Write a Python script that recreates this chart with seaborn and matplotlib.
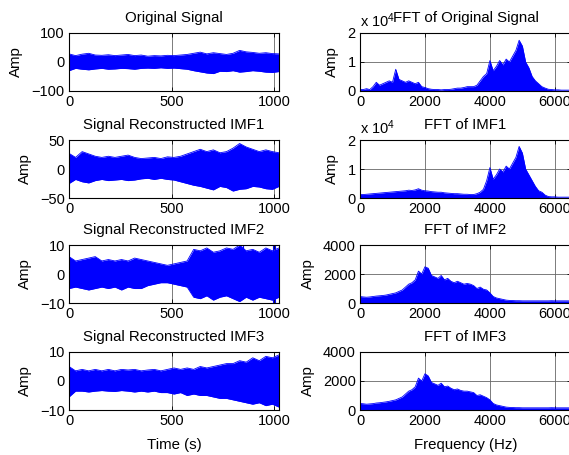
import numpy as np
import pandas as pd
import matplotlib
matplotlib.use("Agg")
import matplotlib.pyplot as plt
import seaborn as sns

# time-domain envelopes (upper / lower), sampled every 32 s from 0 to 1024 s
t_env = list(range(0, 1025, 32))

orig_up = [28, 22, 27, 30, 24, 23, 25, 22, 24, 26, 22, 24, 20, 22, 21, 23, 22,
           24, 26, 30, 34, 28, 32, 29, 26, 30, 40, 35, 33, 30, 32, 29, 28]
orig_low = [-30, -22, -25, -27, -24, -22, -25, -24, -22, -23, -25, -22, -21, -22, -20, -22, -21,
            -23, -25, -30, -34, -38, -40, -32, -33, -30, -35, -33, -30, -32, -35, -36, -33]

imf1_up = [27, 20, 30, 26, 22, 20, 22, 20, 22, 24, 20, 18, 19, 20, 18, 21, 20,
           22, 26, 30, 34, 30, 33, 28, 30, 36, 44, 38, 34, 30, 33, 30, 28]
imf1_low = [-25, -18, -22, -24, -20, -18, -20, -19, -18, -20, -19, -17, -16, -18, -16, -18, -19,
            -22, -25, -28, -30, -33, -36, -30, -32, -38, -35, -34, -30, -31, -34, -35, -30]

imf2_up = [6, 4.5, 5, 5.5, 6, 4.5, 5, 4.5, 5, 4.5, 5.5, 5, 4.5, 4, 3.5, 3, 3.5,
           4, 4.5, 8.5, 8, 9, 7.5, 8, 9, 8.5, 10, 8, 8.5, 7.5, 9, 8, 9]
imf2_low = [-5, -4.5, -5, -5.5, -5, -4.5, -5, -4.5, -5.5, -4.5, -5, -5, -4, -3.5, -3, -3, -3.5,
            -4, -4.5, -8, -8.5, -7.5, -9, -8, -7.5, -8.5, -9.5, -8, -9, -8, -8.5, -9, -8]
imf2_spike_t = [850, 994, 1006]
imf2_spike_top = [10, 11, 11]
imf2_spike_bot = [-8, -11, -11]

imf3_up = [5, 3.5, 4, 3.5, 4, 3.5, 4, 3.5, 4, 3.8, 4, 3.5, 3.8, 4, 3.5, 4, 4.5,
           4, 4.5, 4, 5, 4.5, 5, 5.5, 6, 6, 7, 6.5, 8, 7, 8.5, 8, 9]
imf3_low = [-5.5, -3.5, -3.5, -3.8, -3.5, -3.3, -3.5, -3.6, -3.3, -3.5, -3.8, -3.5, -3.8, -3.5, -4, -4, -4.5,
            -4, -5, -4.5, -5, -5, -5.5, -6, -6, -6.5, -7, -7.5, -8, -7.5, -8.5, -8, -9]

# spectra envelopes, every 100 Hz from 0 to 6500 Hz
freq = list(range(0, 6501, 100))

fft_orig = [0.05, 0.05, 0.08, 0.05, 0.15, 0.3, 0.2, 0.25, 0.3, 0.35, 0.3, 0.75, 0.4, 0.35, 0.3, 0.35,
            0.3, 0.25, 0.3, 0.15, 0.12, 0.08, 0.06, 0.05, 0.05, 0.04, 0.05, 0.05, 0.06, 0.08, 0.1,
            0.1, 0.12, 0.15, 0.15, 0.15, 0.2, 0.35, 0.5, 0.6, 1.05, 0.7, 0.85, 1.05, 0.9, 1.1, 1.0,
            1.2, 1.4, 1.75, 1.55, 1.0, 0.8, 0.5, 0.35, 0.25, 0.15, 0.1, 0.06, 0.05, 0.04, 0.04,
            0.03, 0.03, 0.03, 0.03]  # x 10^4

fft_imf1 = [0.12, 0.12, 0.13, 0.14, 0.15, 0.16, 0.17, 0.18, 0.19, 0.2, 0.21, 0.22, 0.23, 0.24, 0.25,
            0.27, 0.26, 0.28, 0.32, 0.27, 0.25, 0.24, 0.22, 0.21, 0.2, 0.2, 0.18, 0.17, 0.16, 0.15,
            0.15, 0.14, 0.13, 0.13, 0.12, 0.12, 0.15, 0.2, 0.3, 0.6, 1.05, 0.65, 0.8, 1.0, 0.9, 1.1,
            1.0, 1.2, 1.4, 1.78, 1.55, 1.0, 0.8, 0.6, 0.4, 0.25, 0.2, 0.1, 0.05, 0.04, 0.04, 0.03,
            0.03, 0.03, 0.03, 0.03]  # x 10^4

fft_imf2 = [450, 420, 400, 420, 450, 480, 500, 520, 550, 600, 650, 700, 800, 900, 1100, 1300,
            1400, 1600, 2200, 2000, 2500, 2400, 1900, 1800, 1700, 1900, 1600, 1700, 1500, 1400,
            1500, 1400, 1300, 1350, 1300, 1200, 1000, 1100, 950, 900, 700, 450, 350, 300, 250,
            200, 180, 170, 160, 160, 150, 150, 150, 150, 150, 150, 150, 150, 150, 160, 150, 150,
            150, 150, 150, 150]

fft_imf3 = [450, 430, 400, 420, 440, 480, 500, 530, 560, 600, 650, 700, 800, 900, 1100, 1300,
            1400, 1600, 2200, 2000, 2500, 2350, 1900, 1800, 1700, 1850, 1600, 1650, 1500, 1400,
            1450, 1350, 1300, 1300, 1250, 1200, 1000, 1050, 950, 850, 700, 450, 350, 300, 250,
            200, 180, 170, 160, 160, 150, 150, 150, 150, 150, 150, 150, 150, 150, 160, 150, 150,
            150, 150, 150, 150]

sns.set_style("ticks")
plt.rcParams["font.family"] = ["Liberation Sans", "DejaVu Sans"]
plt.rcParams["font.size"] = 10.5
plt.rcParams["mathtext.fontset"] = "custom"
plt.rcParams["mathtext.rm"] = "Liberation Sans"
plt.rcParams["mathtext.it"] = "Liberation Sans"
for key in ["text.color", "axes.labelcolor", "xtick.color", "ytick.color"]:
    plt.rcParams[key] = "black"

BLUE = (0, 0, 1)
FS = 10.8

fig = plt.figure(figsize=(5.69, 4.55), dpi=100)
bottoms = [0.800, 0.5648, 0.334, 0.0989]
h = 0.1275


def style(ax):
    ax.grid(True, color="0.4", lw=0.6, zorder=0)
    ax.set_axisbelow(True)
    ax.tick_params(direction="in", top=True, right=True, length=3, width=0.6,
                   labelsize=10.5, pad=3)
    for s in ax.spines.values():
        s.set_linewidth(0.8)
        s.set_color("black")
        s.set_zorder(5)


def time_panel(ax, up, low, title, ylim, yticks):
    df = pd.DataFrame({"t": t_env, "up": up, "low": low})
    ax.fill_between(df["t"], df["low"], df["up"], color=BLUE, lw=0, zorder=2)
    sns.lineplot(data=df, x="t", y="up", ax=ax, color=BLUE, lw=0.6, zorder=2)
    sns.lineplot(data=df, x="t", y="low", ax=ax, color=BLUE, lw=0.6, zorder=2)
    ax.set_xlim(0, 1024)
    ax.set_ylim(*ylim)
    ax.set_xticks([0, 500, 1000])
    ax.set_yticks(yticks)
    ax.set_title(title, fontsize=FS, pad=8)
    ax.set_ylabel("Amp", fontsize=FS, labelpad=6)
    ax.set_xlabel("")
    style(ax)


def freq_panel(ax, vals, title, ylim, yticks, expo=False):
    df = pd.DataFrame({"f": freq, "a": vals})
    ax.fill_between(df["f"], 0, df["a"], color=BLUE, lw=0, zorder=2)
    sns.lineplot(data=df, x="f", y="a", ax=ax, color=BLUE, lw=0.6, zorder=2)
    ax.set_xlim(0, 6500)
    ax.set_ylim(*ylim)
    ax.set_xticks([0, 2000, 4000, 6000])
    ax.set_yticks(yticks)
    ax.set_title(title, fontsize=FS, pad=8)
    ax.set_ylabel("Amp", fontsize=FS, labelpad=6)
    ax.set_xlabel("")
    if expo:
        ax.text(0.0, 1.06, r"x 10$^{4}$", transform=ax.transAxes, fontsize=10.5,
                ha="left", va="bottom")
    style(ax)


left = [fig.add_axes([0.1213, b, 0.369, h]) for b in bottoms]
right = [fig.add_axes([0.6327, b, 0.371, h]) for b in bottoms]

time_panel(left[0], orig_up, orig_low, "Original Signal", (-100, 100), [-100, 0, 100])
time_panel(left[1], imf1_up, imf1_low, "Signal Reconstructed IMF1", (-50, 50), [-50, 0, 50])
time_panel(left[2], imf2_up, imf2_low, "Signal Reconstructed IMF2", (-10, 10), [-10, 0, 10])
left[2].vlines(imf2_spike_t, imf2_spike_bot, imf2_spike_top, color=BLUE, lw=0.8, zorder=2)
time_panel(left[3], imf3_up, imf3_low, "Signal Reconstructed IMF3", (-10, 10), [-10, 0, 10])
left[3].set_xlabel("Time (s)", fontsize=FS, labelpad=7)

freq_panel(right[0], fft_orig, "FFT of Original Signal", (0, 2), [0, 1, 2], expo=True)
freq_panel(right[1], fft_imf1, "FFT of IMF1", (0, 2), [0, 1, 2], expo=True)
freq_panel(right[2], fft_imf2, "FFT of IMF2", (0, 4000), [0, 2000, 4000])
freq_panel(right[3], fft_imf3, "FFT of IMF3", (0, 4000), [0, 2000, 4000])
right[3].set_xlabel("Frequency (Hz)", fontsize=FS, labelpad=7)

fig.savefig("out.png", dpi=100)
